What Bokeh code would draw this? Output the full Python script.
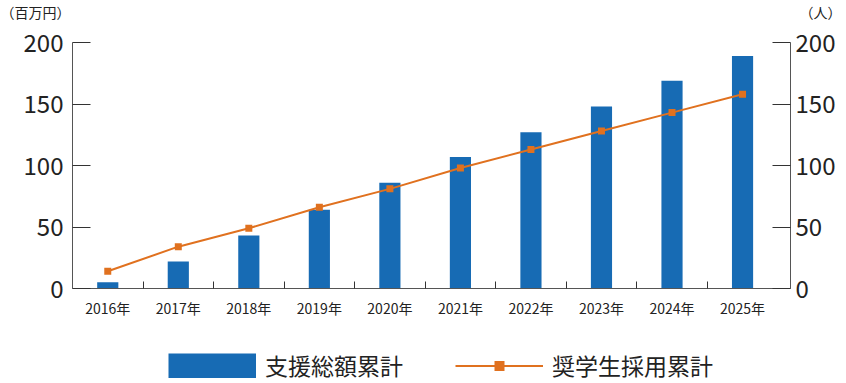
from bokeh.plotting import figure
from bokeh.layouts import column
from bokeh.models import (Range1d, LinearAxis, FixedTicker, Legend, LegendItem,
                          ColumnDataSource)
from bokeh.core.properties import value
from bokeh.embed import file_html
from bokeh.resources import INLINE

# ---- data ----
years = ["2016年", "2017年", "2018年", "2019年", "2020年",
         "2021年", "2022年", "2023年", "2024年", "2025年"]
support_total = [5, 22, 43, 64, 86, 107, 127, 148, 169, 189]      # 百万円
scholars_total = [14, 34, 49, 66, 81, 98, 113, 128, 143, 158]     # 人
left_ticks = [0, 50, 100, 150, 200]
right_ticks = [0, 50, 100, 150, 200]
left_unit = "（百万円）"
right_unit = "（人）"
bar_label = "支援総額累計"
line_label = "奨学生採用累計"

FONT = "Noto Sans CJK JP"
BLUE = "#176bb4"
ORANGE = "#e0711f"
TEXT = "#222222"
AXIS = "#555555"
W = 846


def bare(h):
    f = figure(width=W, height=h, output_backend="svg", toolbar_location=None,
               x_range=Range1d(0, W), y_range=Range1d(0, h),
               x_axis_location=None, y_axis_location=None,
               min_border=0, outline_line_color=None, frame_align=False)
    f.xgrid.visible = False
    f.ygrid.visible = False
    return f


# ---- header with unit captions ----
HDR_H = 22
hdr = bare(HDR_H)
hdr.text(x=[0, 799], y=[HDR_H - 11, HDR_H - 11], text=[left_unit, right_unit],
         text_font=value(FONT), text_font_size="14px", text_color=TEXT,
         text_baseline="middle", text_align="left")

# ---- main chart ----
xs = [i + 0.5 for i in range(len(years))]
bounds = [float(i) for i in range(1, len(years))]
src = ColumnDataSource(dict(x=xs, year=years, support=support_total,
                            scholars=scholars_total))

p = figure(width=W, height=318, output_backend="svg", toolbar_location=None,
           x_range=Range1d(0, len(years) + 0.18), y_range=Range1d(0, 200),
           min_border_left=72, min_border_right=56, min_border_top=20,
           min_border_bottom=52, outline_line_color=None, frame_align=False)
p.xgrid.visible = False
p.ygrid.visible = False
p.extra_y_ranges = {"people": Range1d(0, 200)}

p.vbar(x="x", top="support", width=0.3, source=src,
       fill_color=BLUE, line_color=None)
p.line(x="x", y="scholars", source=src, y_range_name="people",
       line_color=ORANGE, line_width=2)
p.scatter(x="x", y="scholars", source=src, y_range_name="people",
          marker="square", size=7, fill_color=ORANGE, line_color=None)

# x axis
xa = p.xaxis[0]
xa.ticker = FixedTicker(ticks=xs, minor_ticks=bounds)
xa.major_label_overrides = {x: y for x, y in zip(xs, years)}
xa.major_tick_in = 0
xa.major_tick_out = 0
xa.minor_tick_in = 7
xa.minor_tick_out = 0
xa.minor_tick_line_color = "#333333"
xa.axis_line_color = AXIS
xa.major_label_text_font = FONT
xa.major_label_text_font_size = "14px"
xa.major_label_text_color = TEXT
xa.major_label_standoff = 9

# left axis
ya = p.yaxis[0]
ya.ticker = FixedTicker(ticks=left_ticks)
ya.major_tick_in = 18
ya.major_tick_out = 0
ya.minor_tick_line_color = None
ya.axis_line_color = AXIS
ya.major_tick_line_color = "#333333"
ya.major_label_text_font = FONT
ya.major_label_text_font_size = "24px"
ya.major_label_text_color = TEXT
ya.major_label_standoff = 9

# right axis
ra = LinearAxis(y_range_name="people", ticker=FixedTicker(ticks=right_ticks))
ra.major_tick_in = 18
ra.major_tick_out = 0
ra.minor_tick_line_color = None
ra.axis_line_color = AXIS
ra.major_tick_line_color = "#333333"
ra.major_label_text_font = FONT
ra.major_label_text_font_size = "24px"
ra.major_label_text_color = TEXT
ra.major_label_standoff = 5
p.add_layout(ra, "right")

# ---- footer legend (swatches use the same series, kept out of view) ----
ft = bare(43)
ft.extra_y_ranges = {"hidden": Range1d(-1000, -957)}
lb = ft.line(x="x", y="support", source=src, y_range_name="hidden",
             line_color=BLUE, line_width=25, line_cap="butt")
ll = ft.line(x="x", y="scholars", source=src, y_range_name="hidden",
             line_color=ORANGE, line_width=2)
lm = ft.scatter(x="x", y="scholars", source=src, y_range_name="hidden",
                marker="square", size=7, fill_color=ORANGE, line_color=None)
legend = Legend(items=[LegendItem(label=bar_label, renderers=[lb]),
                       LegendItem(label=line_label, renderers=[ll, lm])],
                location=(168, 1), orientation="horizontal",
                glyph_width=88, glyph_height=25, label_height=25,
                label_text_font=FONT, label_text_font_size="23px",
                label_text_color=TEXT, spacing=52, label_standoff=9,
                padding=0, margin=0, border_line_color=None,
                background_fill_alpha=0)
ft.add_layout(legend)

layout = column(hdr, p, ft, spacing=0)
open("out.html", "w").write(file_html(layout, INLINE))
